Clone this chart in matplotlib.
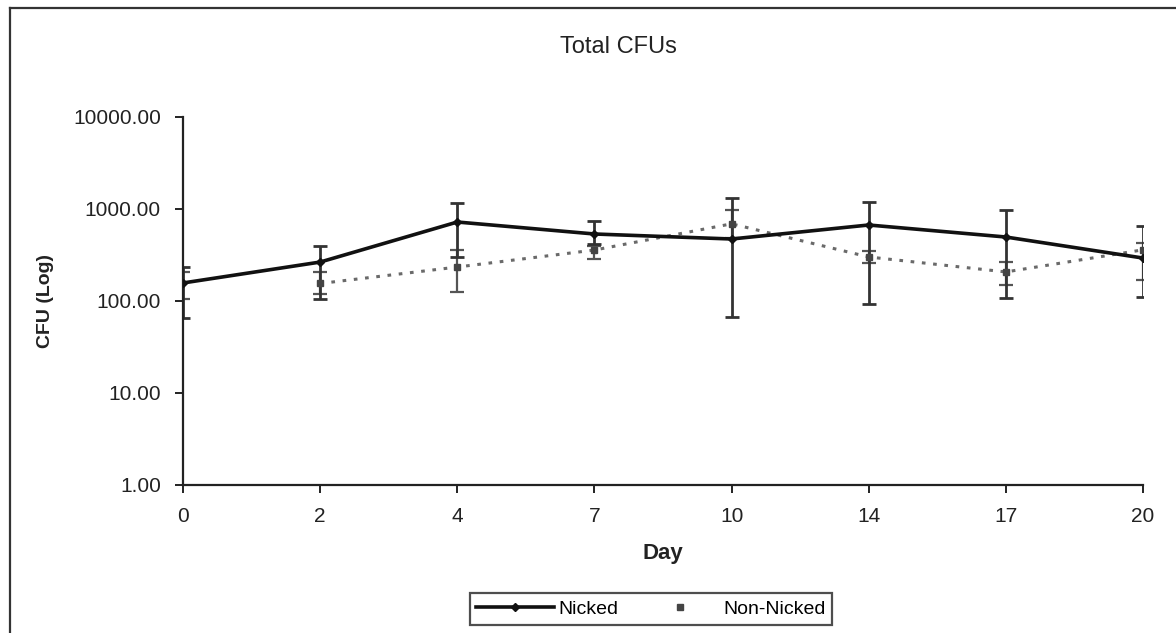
"""Total CFUs over days, nicked vs non-nicked, log scale with error bars."""

import matplotlib

matplotlib.use("Agg")
import matplotlib.pyplot as plt
import numpy as np
from matplotlib.lines import Line2D
from matplotlib.ticker import FixedLocator, FuncFormatter, NullLocator

plt.rcParams["font.family"] = ["Liberation Sans", "DejaVu Sans"]

days = ["0", "2", "4", "7", "10", "14", "17", "20"]

nicked_cfu = [157, 265, 722, 535, 472, 670, 496, 293]
nicked_hi = [234, 396, 1162, 740, 1318, 1191, 976, 653]
nicked_lo = [65, 105, 301, 420, 67, 93, 108, 110]

# non-nicked has no day 0 point on the line, only its error bar
nonnicked_cfu = [np.nan, 155, 234, 358, 690, 301, 207, 360]
nonnicked_hi = [207, 207, 358, 400, 976, 350, 264, 427]
nonnicked_lo = [105, 120, 125, 286, 480, 260, 149, 169]

fig = plt.figure(figsize=(11.76, 6.33), dpi=100)
ax = fig.add_axes([183 / 1176, 1 - 485 / 633, 960 / 1176, 368 / 633])

x = np.arange(len(days))


def draw_bars(lo, hi, color, lw):
    ax.vlines(x, lo, hi, colors=color, linewidth=lw, zorder=2)
    ax.plot(x, lo, linestyle="none", marker="_", markersize=10, markeredgewidth=lw, color=color, zorder=2)
    ax.plot(x, hi, linestyle="none", marker="_", markersize=10, markeredgewidth=lw, color=color, zorder=2)


draw_bars(nonnicked_lo, nonnicked_hi, "#555555", 1.6)
draw_bars(nicked_lo, nicked_hi, "#333333", 2.0)

ax.plot(x, nonnicked_cfu, color="#6a6a6a", linestyle=(0, (1.2, 2.5)), linewidth=2.2,
        marker="s", markersize=5, markerfacecolor="#444444", markeredgecolor="#444444", zorder=3)
ax.plot(x, nicked_cfu, color="#111111", linewidth=2.6,
        marker="D", markersize=4, zorder=4)

ax.set_yscale("log")
ax.set_ylim(1, 10000)
ax.set_xlim(0, len(days) - 1)
ax.yaxis.set_major_locator(FixedLocator([1, 10, 100, 1000, 10000]))
ax.yaxis.set_minor_locator(NullLocator())
ax.yaxis.set_major_formatter(FuncFormatter(lambda v, _: f"{v:.2f}"))
ax.set_xticks(x)
ax.set_xticklabels(days)

for side in ("top", "right"):
    ax.spines[side].set_visible(False)
for side in ("left", "bottom"):
    ax.spines[side].set_linewidth(1.6)
    ax.spines[side].set_color("#222222")

ax.tick_params(axis="y", direction="out", length=6, width=1.4, pad=10,
               labelsize=15, colors="#222222")
ax.tick_params(axis="x", direction="out", length=6, width=1.4, pad=10,
               labelsize=15, colors="#222222")

ax.set_ylabel("CFU (Log)", fontsize=14, fontweight="bold", color="#222222", labelpad=0)
ax.yaxis.set_label_coords(-(183 - 45) / 960, 0.5)
ax.yaxis.label.set_verticalalignment("center")
ax.set_xlabel("Day", fontsize=16, fontweight="bold", color="#222222", va="center")
ax.xaxis.set_label_coords(0.5, -(553 - 485) / 368)

fig.text(618 / 1176, 1 - 47 / 633, "Total CFUs", ha="center", va="center",
         fontsize=17, color="#222222")

handles = [
    Line2D([], [], color="#111111", linewidth=2.6, marker="D", markersize=4),
    Line2D([], [], color="#444444", linestyle="none", marker="s", markersize=5),
]
leg = fig.legend(handles, ["Nicked", "Non-Nicked"], loc="center",
                 bbox_to_anchor=(651 / 1176, 1 - 609 / 633), ncol=2,
                 fontsize=14, frameon=True, fancybox=False, handlelength=4,
                 columnspacing=1.2, handletextpad=0.2, borderpad=0.35)
leg.get_frame().set_edgecolor("#222222")
leg.get_frame().set_linewidth(1.6)

# outer chart border
fig.add_artist(Line2D([10 / 1176, 10 / 1176], [0, 1 - 8 / 633], color="#333333", linewidth=1.6))
fig.add_artist(Line2D([10 / 1176, 1], [1 - 8 / 633, 1 - 8 / 633], color="#333333", linewidth=1.6))

fig.savefig("out.png", dpi=100)
plt.close(fig)
